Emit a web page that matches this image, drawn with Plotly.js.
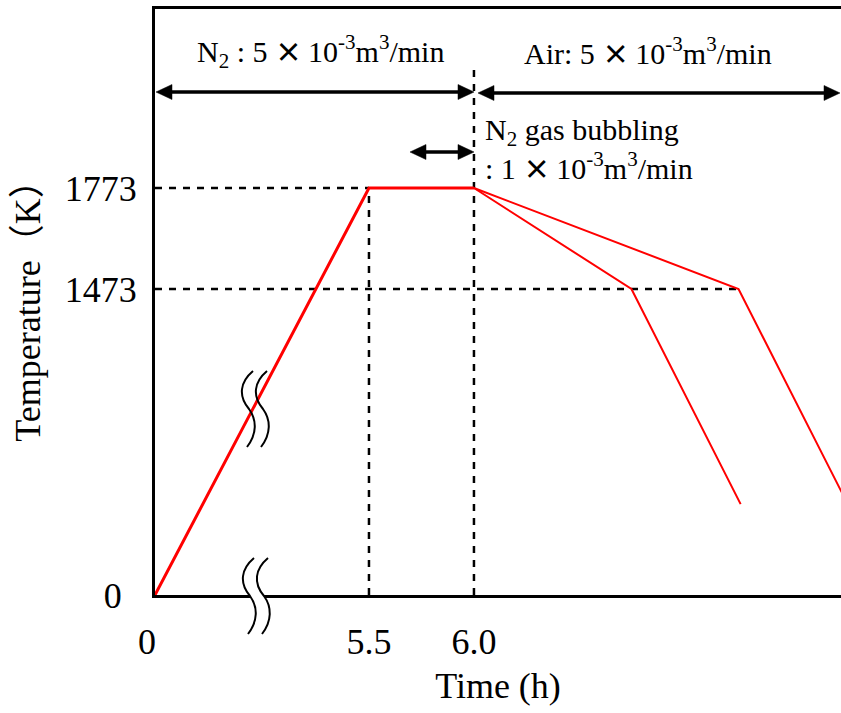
<!DOCTYPE html>
<html><head><meta charset="utf-8">
<script src="https://cdn.plot.ly/plotly-3.0.1.min.js"></script>
<style>html,body{margin:0;padding:0;background:#fff;overflow:hidden}</style>
</head><body><div id="chart" style="width:841px;height:713px"></div>
<script>
// ---- Data (time in h, temperature in K) ----
const heatTime = [0, 5.5, 6.0];
const heatTemp = [0, 1773, 1773];
const coolATime = [6.0, 6.75, 7.27];
const coolATemp = [1773, 1473, 834];
const coolBTime = [6.0, 7.26, 7.78];
const coolBTemp = [1773, 1473, 834];
const xTickValues = [0, 5.5, 6.0];
const xTickLabels = ['0\u00a0\u2009', '5.5', '6.0'];
const yTickValues = [0, 1473, 1773];
const yTickLabels = ['0\u00a0\u2006', '1473', '1773'];
const holdTemp = 1773, coolTemp = 1473, holdStart = 5.5, holdEnd = 6.0;

// ---- Broken-axis transform (compressed region before the break) ----
const X0 = 4.481, XB = 5.5;
const Y0 = 564.1, YB = 800;
const mapX = t => t < XB ? X0 + t * (XB - X0) / XB : t;
const mapY = T => T < YB ? Y0 + T * (YB - Y0) / YB : T;

// plot area in pixels
const PL = 155, PR = 841, PT = 9, PB = 595;
const px = x => (x - PL) / (PR - PL);
const py = y => (PB - y) / (PB - PT);

const FONT = 'Liberation Serif, Times New Roman, Noto Sans CJK JP, serif';
const TIMES = '<span style="font-family:Noto Sans CJK JP;font-size:27px;font-weight:bold">×</span>\u2009';

const traces = [
  {x: heatTime.map(mapX), y: heatTemp.map(mapY), mode: 'lines', line: {color: '#ff0000', width: 3}, hoverinfo: 'skip'},
  {x: coolATime.map(mapX), y: coolATemp.map(mapY), mode: 'lines', line: {color: '#ff0000', width: 2}, hoverinfo: 'skip'},
  {x: coolBTime.map(mapX), y: coolBTemp.map(mapY), mode: 'lines', line: {color: '#ff0000', width: 2}, hoverinfo: 'skip'}
];

const dash = '7px,7px';
const dl = {color: 'black', width: 2.5, dash: dash};
const shapes = [
  {type: 'line', layer: 'below', xref: 'x', yref: 'y', x0: mapX(0), x1: mapX(holdStart), y0: holdTemp, y1: holdTemp, line: dl},
  {type: 'line', layer: 'below', xref: 'x', yref: 'y', x0: mapX(0), x1: mapX(coolBTime[1]), y0: coolTemp, y1: coolTemp, line: dl},
  {type: 'line', layer: 'below', xref: 'x', yref: 'y', x0: mapX(holdStart), x1: mapX(holdStart), y0: mapY(0), y1: holdTemp, line: dl},
  {type: 'line', layer: 'below', xref: 'x', yref: 'paper', x0: mapX(holdEnd), x1: mapX(holdEnd), y0: 0, y1: py(65), line: dl}
];

// break symbols (decoration), defined in pixels and converted to paper coords
function wave(dx, dy) {
  const pts = [[253,371],[240,382],[238,396],[249,409],[257,420],[257,434],[247,447]]
    .map(p => [px(p[0] + dx), py(p[1] + dy)]);
  const f = p => p[0].toFixed(5) + ',' + p[1].toFixed(5);
  return 'M' + f(pts[0]) + ' C' + f(pts[1]) + ' ' + f(pts[2]) + ' ' + f(pts[3]) +
         ' C' + f(pts[4]) + ' ' + f(pts[5]) + ' ' + f(pts[6]);
}
// gap in x-axis line
shapes.push({type: 'rect', layer: 'above', xref: 'paper', yref: 'paper', x0: px(250), x1: px(264), y0: py(599), y1: py(591), fillcolor: 'white', line: {width: 0}});
[[0,0],[14,0],[1,187],[15,187]].forEach(o => {
  shapes.push({type: 'path', layer: 'above', xref: 'paper', yref: 'paper', path: wave(o[0], o[1]), line: {color: 'black', width: 2}});
});

// double-headed arrows drawn as shapes (line + two filled heads)
function arrow(xa, xb, y) {
  const hl = 16, hh = 7.5;
  shapes.push({type: 'line', layer: 'above', xref: 'paper', yref: 'paper', x0: px(xa + hl - 2), x1: px(xb - hl + 2), y0: py(y), y1: py(y), line: {color: 'black', width: 3.5}});
  const f = (x, yy) => px(x).toFixed(5) + ',' + py(yy).toFixed(5);
  shapes.push({type: 'path', layer: 'above', xref: 'paper', yref: 'paper', fillcolor: 'black', line: {color: 'black', width: 0.5},
    path: 'M' + f(xa, y) + ' L' + f(xa + hl, y - hh) + ' L' + f(xa + hl, y + hh) + ' Z'});
  shapes.push({type: 'path', layer: 'above', xref: 'paper', yref: 'paper', fillcolor: 'black', line: {color: 'black', width: 0.5},
    path: 'M' + f(xb, y) + ' L' + f(xb - hl, y - hh) + ' L' + f(xb - hl, y + hh) + ' Z'});
}
arrow(156, 474, 92);
arrow(478, 840, 93);
arrow(410, 474, 152);

const annFont = {family: FONT, size: 30, color: 'black'};
const annotations = [
  {xref: 'paper', yref: 'paper', x: px(320), y: py(52), xanchor: 'center', yanchor: 'middle', showarrow: false,
   text: 'N<sub>2</sub> : 5 ' + TIMES + '10<sup>-3</sup>m<sup>3</sup>/min', font: annFont},
  {xref: 'paper', yref: 'paper', x: px(648), y: py(52), xanchor: 'center', yanchor: 'middle', showarrow: false,
   text: 'Air: 5 ' + TIMES + '10<sup>-3</sup>m<sup>3</sup>/min', font: annFont},
  {xref: 'paper', yref: 'paper', x: px(483), y: py(150), xanchor: 'left', yanchor: 'middle', align: 'left', showarrow: false,
   text: 'N<sub>2</sub> gas bubbling<br>: 1 ' + TIMES + '10<sup>-3</sup>m<sup>3</sup>/min', font: annFont}
];

const layout = {
  width: 841, height: 713,
  margin: {l: PL, r: 841 - PR, t: PT, b: 713 - PB, pad: 0},
  paper_bgcolor: 'white', plot_bgcolor: 'white',
  showlegend: false,
  font: {family: FONT, color: 'black'},
  xaxis: {
    range: [X0, 7.748], showgrid: false, zeroline: false,
    showline: true, linecolor: 'black', linewidth: 3, mirror: true,
    ticks: 'inside', ticklen: 6, tickwidth: 2, tickcolor: 'black',
    tickmode: 'array', tickvals: xTickValues.map(mapX), ticktext: xTickLabels,
    tickfont: {family: FONT, size: 36, color: 'black'}, ticklabelstandoff: 13,
    title: {text: 'Time (h)', font: {family: FONT, size: 36, color: 'black'}, standoff: 12}
  },
  yaxis: {
    range: [Y0, 2304.6], showgrid: false, zeroline: false,
    showline: true, linecolor: 'black', linewidth: 3,
    ticks: 'inside', ticklen: 5, tickwidth: 2, tickcolor: 'black',
    tickmode: 'array', tickvals: yTickValues.map(mapY), ticktext: yTickLabels,
    tickfont: {family: FONT, size: 36, color: 'black'}, ticklabelstandoff: 8,
    title: {text: 'Temperature（K）', font: {family: FONT, size: 36, color: 'black'}, standoff: 14}
  },
  shapes: shapes,
  annotations: annotations
};

Plotly.newPlot('chart', traces, layout, {displayModeBar: false, staticPlot: true});
</script>
</body></html>
